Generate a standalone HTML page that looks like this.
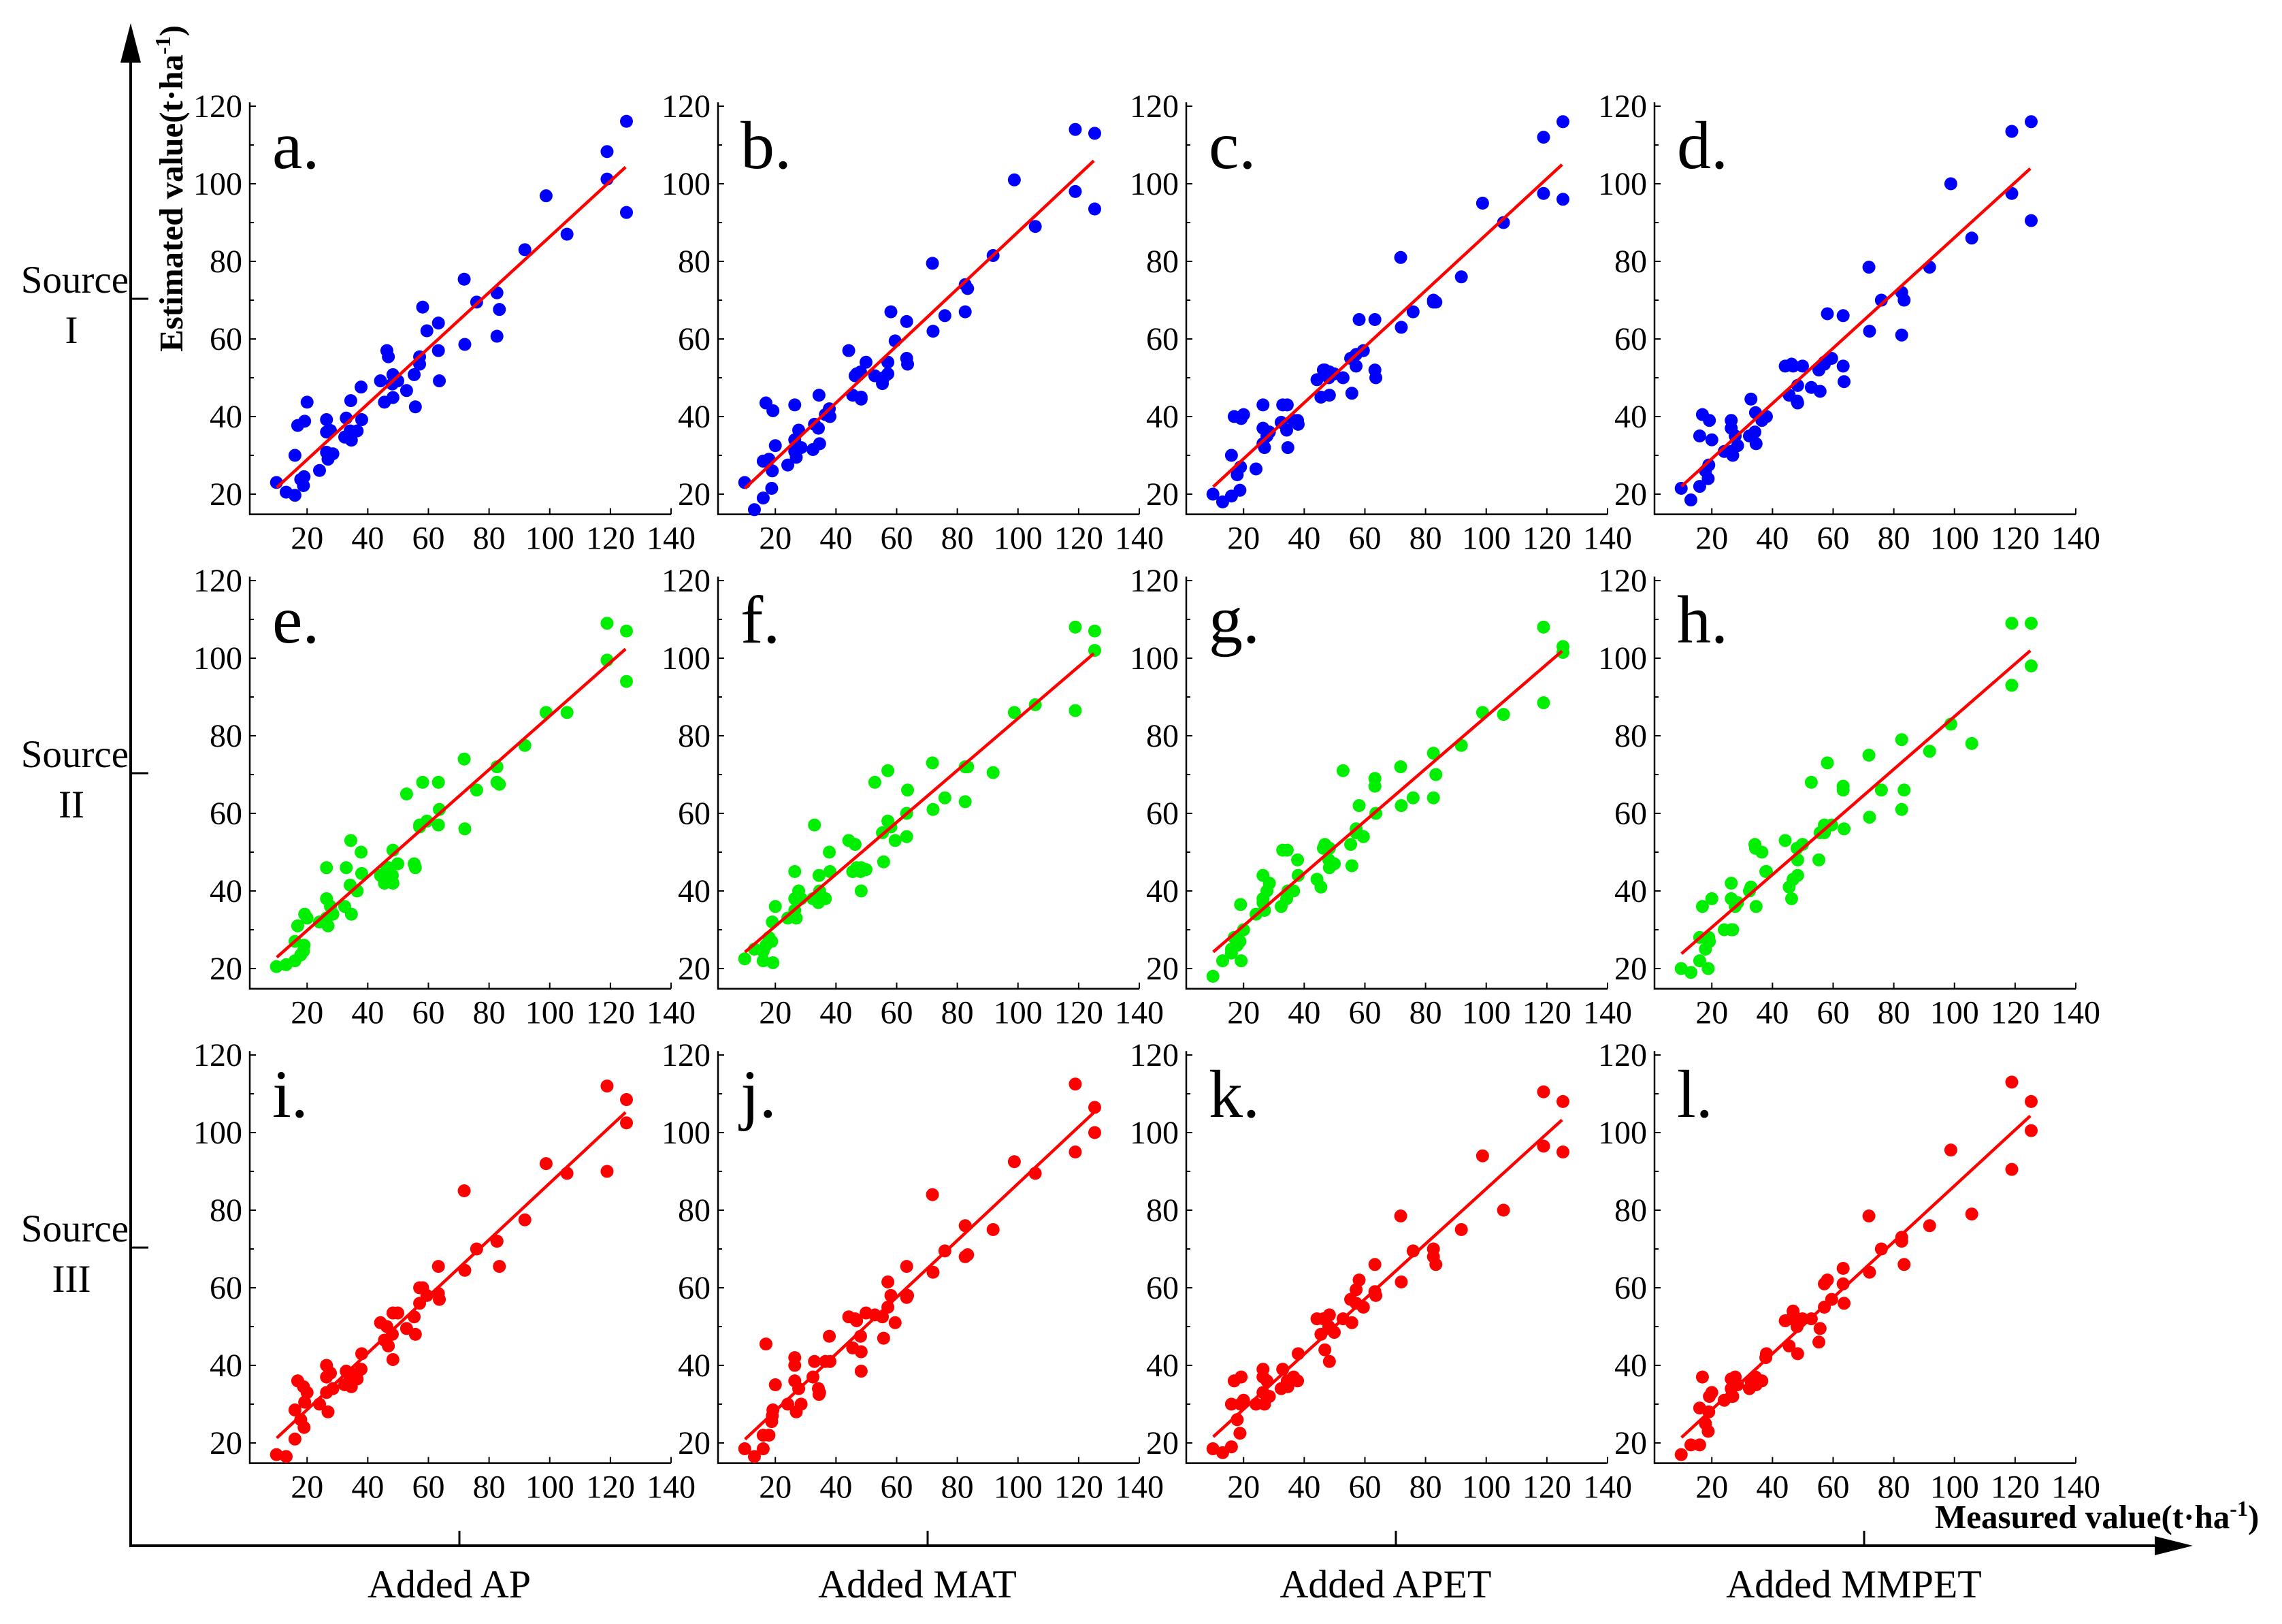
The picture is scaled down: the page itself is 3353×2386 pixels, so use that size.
<!DOCTYPE html>
<html><head><meta charset="utf-8"><style>
html,body{margin:0;padding:0;background:#fff}
svg{display:block}
text{font-family:"Liberation Serif",serif;fill:#000}
</style></head><body>
<svg id="chart" xmlns="http://www.w3.org/2000/svg" width="3353" height="2386" viewBox="0 0 3353 2386">
<g>
<line x1="192" y1="80" x2="192" y2="2273" stroke="#000" stroke-width="4"/>
<polygon points="192,34 177,92 207,92" fill="#000"/>
<line x1="190" y1="2271" x2="3180" y2="2271" stroke="#000" stroke-width="4"/>
<polygon points="3222,2271 3166,2257 3166,2285" fill="#000"/>
<text transform="translate(268,277) rotate(-90)" text-anchor="middle" font-size="49" font-weight="bold">Estimated value(t·ha<tspan baseline-shift="super" font-size="32">-1</tspan>)</text>
<text x="2843" y="2245" font-size="49" font-weight="bold">Measured value(t·ha<tspan baseline-shift="super" font-size="32">-1</tspan>)</text>
</g>
<g id="panels"></g>
</svg>
<script>
const measured=[9.9,13.1,16,16,16.9,19.2,20,17.9,19,18.8,24.1,26.4,26.4,27.7,26.4,26.9,28.5,32.9,32.4,34.2,34.6,34.4,36.5,37.8,38,44.2,45.5,46.3,46.8,48.3,48.3,48.1,49.9,52.8,55.3,55.7,57.1,57.1,58.1,59.5,63.3,63.3,63.6,71.8,72,75.9,82.6,83.4,82.6,91.8,98.8,105.7,118.9,118.9,125.3,125.3];
const estA=[23,20.5,19.7,30,37.7,38.8,43.7,23.8,24.5,22.2,26.1,39.2,36,36.4,30.8,29,30.4,39.6,34.7,36.3,33.9,44.1,36.3,47.6,39.2,49.2,43.7,57,55.4,50.8,44.9,48.4,49.2,46.7,50.8,42.5,55.4,53.5,68.2,62.1,64.1,57,49.2,75.4,58.6,69.5,71.9,67.6,60.7,83,96.9,87,108.3,101.2,116.1,92.6];
const estB=[23,16,19,28.5,43.5,41.5,32.5,29,26,21.5,27.5,43,34,36.5,31,29.5,32,38,31.5,37,33,45.5,40.5,42,40,57,45.5,50.5,51,45,44.5,51.5,54,50.5,48.5,50,54,51,67,59.5,64.5,55,53.5,79.5,62,66,74,73,67,81.5,101,89,114,98,113,93.5];
const estC=[20,18,19.5,30,40,39.5,40.5,25,27,21,26.5,43,37,35,33,32,36,43,38.5,36.5,32,43,39,39,38,49.5,45,52,52,51.5,45.5,50,51,50,55,46,56,53,65,57,65,52,50,81,63,67,70,69.5,69.5,76,95,90,112,97.5,116,96];
const estD=[21.5,18.5,22,35,40.5,39,34,26,27.5,24,31,39,37,35,31,30,32.5,44.5,35,36,33,41,39,40,40,53,45.5,53.5,53,48,43.5,44,53,47.5,52,46.5,54,53.5,66.5,55,66,53,49,78.5,62,70,72,70,61,78.5,100,86,113.5,97.5,116,90.5];
const estE=[20.5,21,22,27,31,34,33,23.5,26,24.5,32,46,38,36,33,31,34,46,36,41.5,34,53,40,50,44.5,44,42,46,46,50.5,42,44,47,65,47,46,57,56.5,68,58,68,57,61,74,56,66,72,67.5,68,77.5,86,86,109,99.5,107,94];
const estF=[22.5,25,24.5,22,26,21.5,36,28,32,27,33,45,38,40,35,33,38,57,38,37,40,44,38,50,45,53,45,52,46,46,40,45,45.5,68,55,47.5,71,58,56.5,53,60,54,66,73,61,64,72,72,63,70.5,86,88,108,86.5,107,102];
const estG=[18,22,24,25,28,22,30,26,36.5,27,34,44,38,40,37,35,42,50.5,36,38,40,50.5,40,48,44,43,41,51,52,51,46,48,47,71,52,46.5,55,56,62,54,69,67,60,72,62,64,75.5,70,64,77.5,86,85.5,108,88.5,103,101.5];
const estH=[20,19,22,28,36,27,38,25,28,20,30,42,38,36,30,30,37,41,40,52,36,51,50,45,45,53,41,38,43,44,48,51,52,68,48,55,55,57,73,57,66,67,56,75,59,66,79,66,61,76,83,78,109,93,109,98];
const estI=[17,16.5,21,28.5,36,30.5,33,26,24,34.5,30,40,37,38,33,28,34,38.5,35,36.5,34.5,38,36.5,39,43,51,46.5,50,45,53.5,41.5,48,53.5,49.5,52.5,48,56,60,60,58,65.5,58.5,57,85,64.5,70,72,65.5,72,77.5,92,89.5,112,90,108.5,102.5];
const estJ=[18.5,16.5,18.5,22,45.5,28.5,35,22,27,25.5,30,42,40,34,36,28,30,41,37,34,33,32.5,41,47.5,41,52.5,44.5,52,51.5,43.5,38.5,47.5,53.5,53,52.5,47,55,61.5,58,51,65.5,57.5,58,84,64,69.5,76,68.5,68,75,92.5,89.5,112.5,95,106.5,100];
const estK=[18.5,17.5,19,30,36,37,31,26,30,22.5,30,39,37,36,33,30,32,39,34,35,34.5,36,37,36,43,52,48,52,44,53,41,50,48.5,52,57,51,56,59.5,62,55,66,59,58,78.5,61.5,69.5,70,66,68,75,94,80,110.5,96.5,108,95];
const estL=[17,19.5,19.5,29,37,32,33,25,28,23,31,36.5,34,37,32,32,35,36,34,36,35,37,36,42,43,51.5,45,52,54,52,43,50,52,52,46,49.5,55,61,62,57,65,61,56,78.5,64,70,73,66,72,76,95.5,79,113,90.5,108,100.5];
const panelLetters=["a.","b.","c.","d.","e.","f.","g.","h.","i.","j.","k.","l."];
const xTicks=[20,40,60,80,100,120,140];
const yTicks=[20,40,60,80,100,120];
const sources=["I","II","III"];
const columns=["Added AP","Added MAT","Added APET","Added MMPET"];

const NS="http://www.w3.org/2000/svg";
const root=document.getElementById('panels');
const series=[estA,estB,estC,estD,estE,estF,estG,estH,estI,estJ,estK,estL];
const colors=["#0000ff","#00ee00","#ff0000"];
function mk(tag,attrs,parent){const e=document.createElementNS(NS,tag);for(const k in attrs)e.setAttribute(k,attrs[k]);parent.appendChild(e);return e;}
const XMIN=1.1,XMAX=140,YMIN=14.8,YMAX=120;
for(let r=0;r<3;r++){
  const sy=439+697*r;
  const t=mk('line',{x1:192,y1:sy,x2:218,y2:sy,stroke:'#000','stroke-width':3},root);
  
  
  const s1=mk('text',{x:189,y:sy-9,'text-anchor':'end','font-size':57},root);s1.textContent="Source";
  
  
  const s2=mk('text',{x:105,y:sy+65,'text-anchor':'middle','font-size':57},root);s2.textContent=sources[r];
  
  
}
for(let c=0;c<4;c++){
  const bx=675+688*c;
  const t=mk('line',{x1:bx,y1:2249,x2:bx,y2:2271,stroke:'#000','stroke-width':3},root);
  
  
  const lt=mk('text',{x:660+688*c,y:2347,'text-anchor':'middle','font-size':58},root);lt.textContent=columns[c];
  
  
}
for(let i=0;i<12;i++){
  const r=Math.floor(i/4),c=i%4;
  const ox=367+688*c, top=156+697*r;
  const X=v=>ox+(v-XMIN)*(619/(XMAX-XMIN));
  const Y=v=>top+(YMAX-v)*5.70;
  const g=mk('g',{},root);
  
  
  const base=Y(YMIN);
  mk('line',{x1:ox,y1:Y(121),x2:ox,y2:base+1,stroke:'#000','stroke-width':2.5},g);
  mk('line',{x1:ox-1,y1:base,x2:X(140),y2:base,stroke:'#000','stroke-width':2.5},g);
  for(let v=20;v<=120;v+=10){const maj=v%20===0;mk('line',{x1:ox,y1:Y(v),x2:ox+(maj?9:6),y2:Y(v),stroke:'#000','stroke-width':2},g);}
  yTicks.forEach(v=>{const tx=mk('text',{x:ox-11,y:Y(v)+16,'text-anchor':'end','font-size':48},g);tx.textContent=v;
    
    });
  xTicks.forEach(v=>{mk('line',{x1:X(v),y1:base,x2:X(v),y2:base-9,stroke:'#000','stroke-width':2},g);
    const tx=mk('text',{x:X(v),y:base+51,'text-anchor':'middle','font-size':48},g);tx.textContent=v;
    
    });
  const lt=mk('text',{x:ox+33,y:top+91,'font-size':100},g);lt.textContent=panelLetters[i];
  
  
  const ys=series[i];
  ys.forEach((v,k)=>{const d=mk('circle',{cx:X(measured[k]),cy:Y(v),r:9.5,fill:colors[r]},g);
    
    });
  const n=ys.length;let mx=0,my=0;for(let k=0;k<n;k++){mx+=measured[k];my+=ys[k];}mx/=n;my/=n;
  let sxy=0,sxx=0;for(let k=0;k<n;k++){sxy+=(measured[k]-mx)*(ys[k]-my);sxx+=(measured[k]-mx)**2;}
  const b=sxy/sxx,a=my-b*mx;
  const ln=mk('line',{x1:X(10),y1:Y(a+b*10),x2:X(125),y2:Y(a+b*125),stroke:'#ff0000','stroke-width':4.5},g);
  
  
}
</script>
</body></html>
